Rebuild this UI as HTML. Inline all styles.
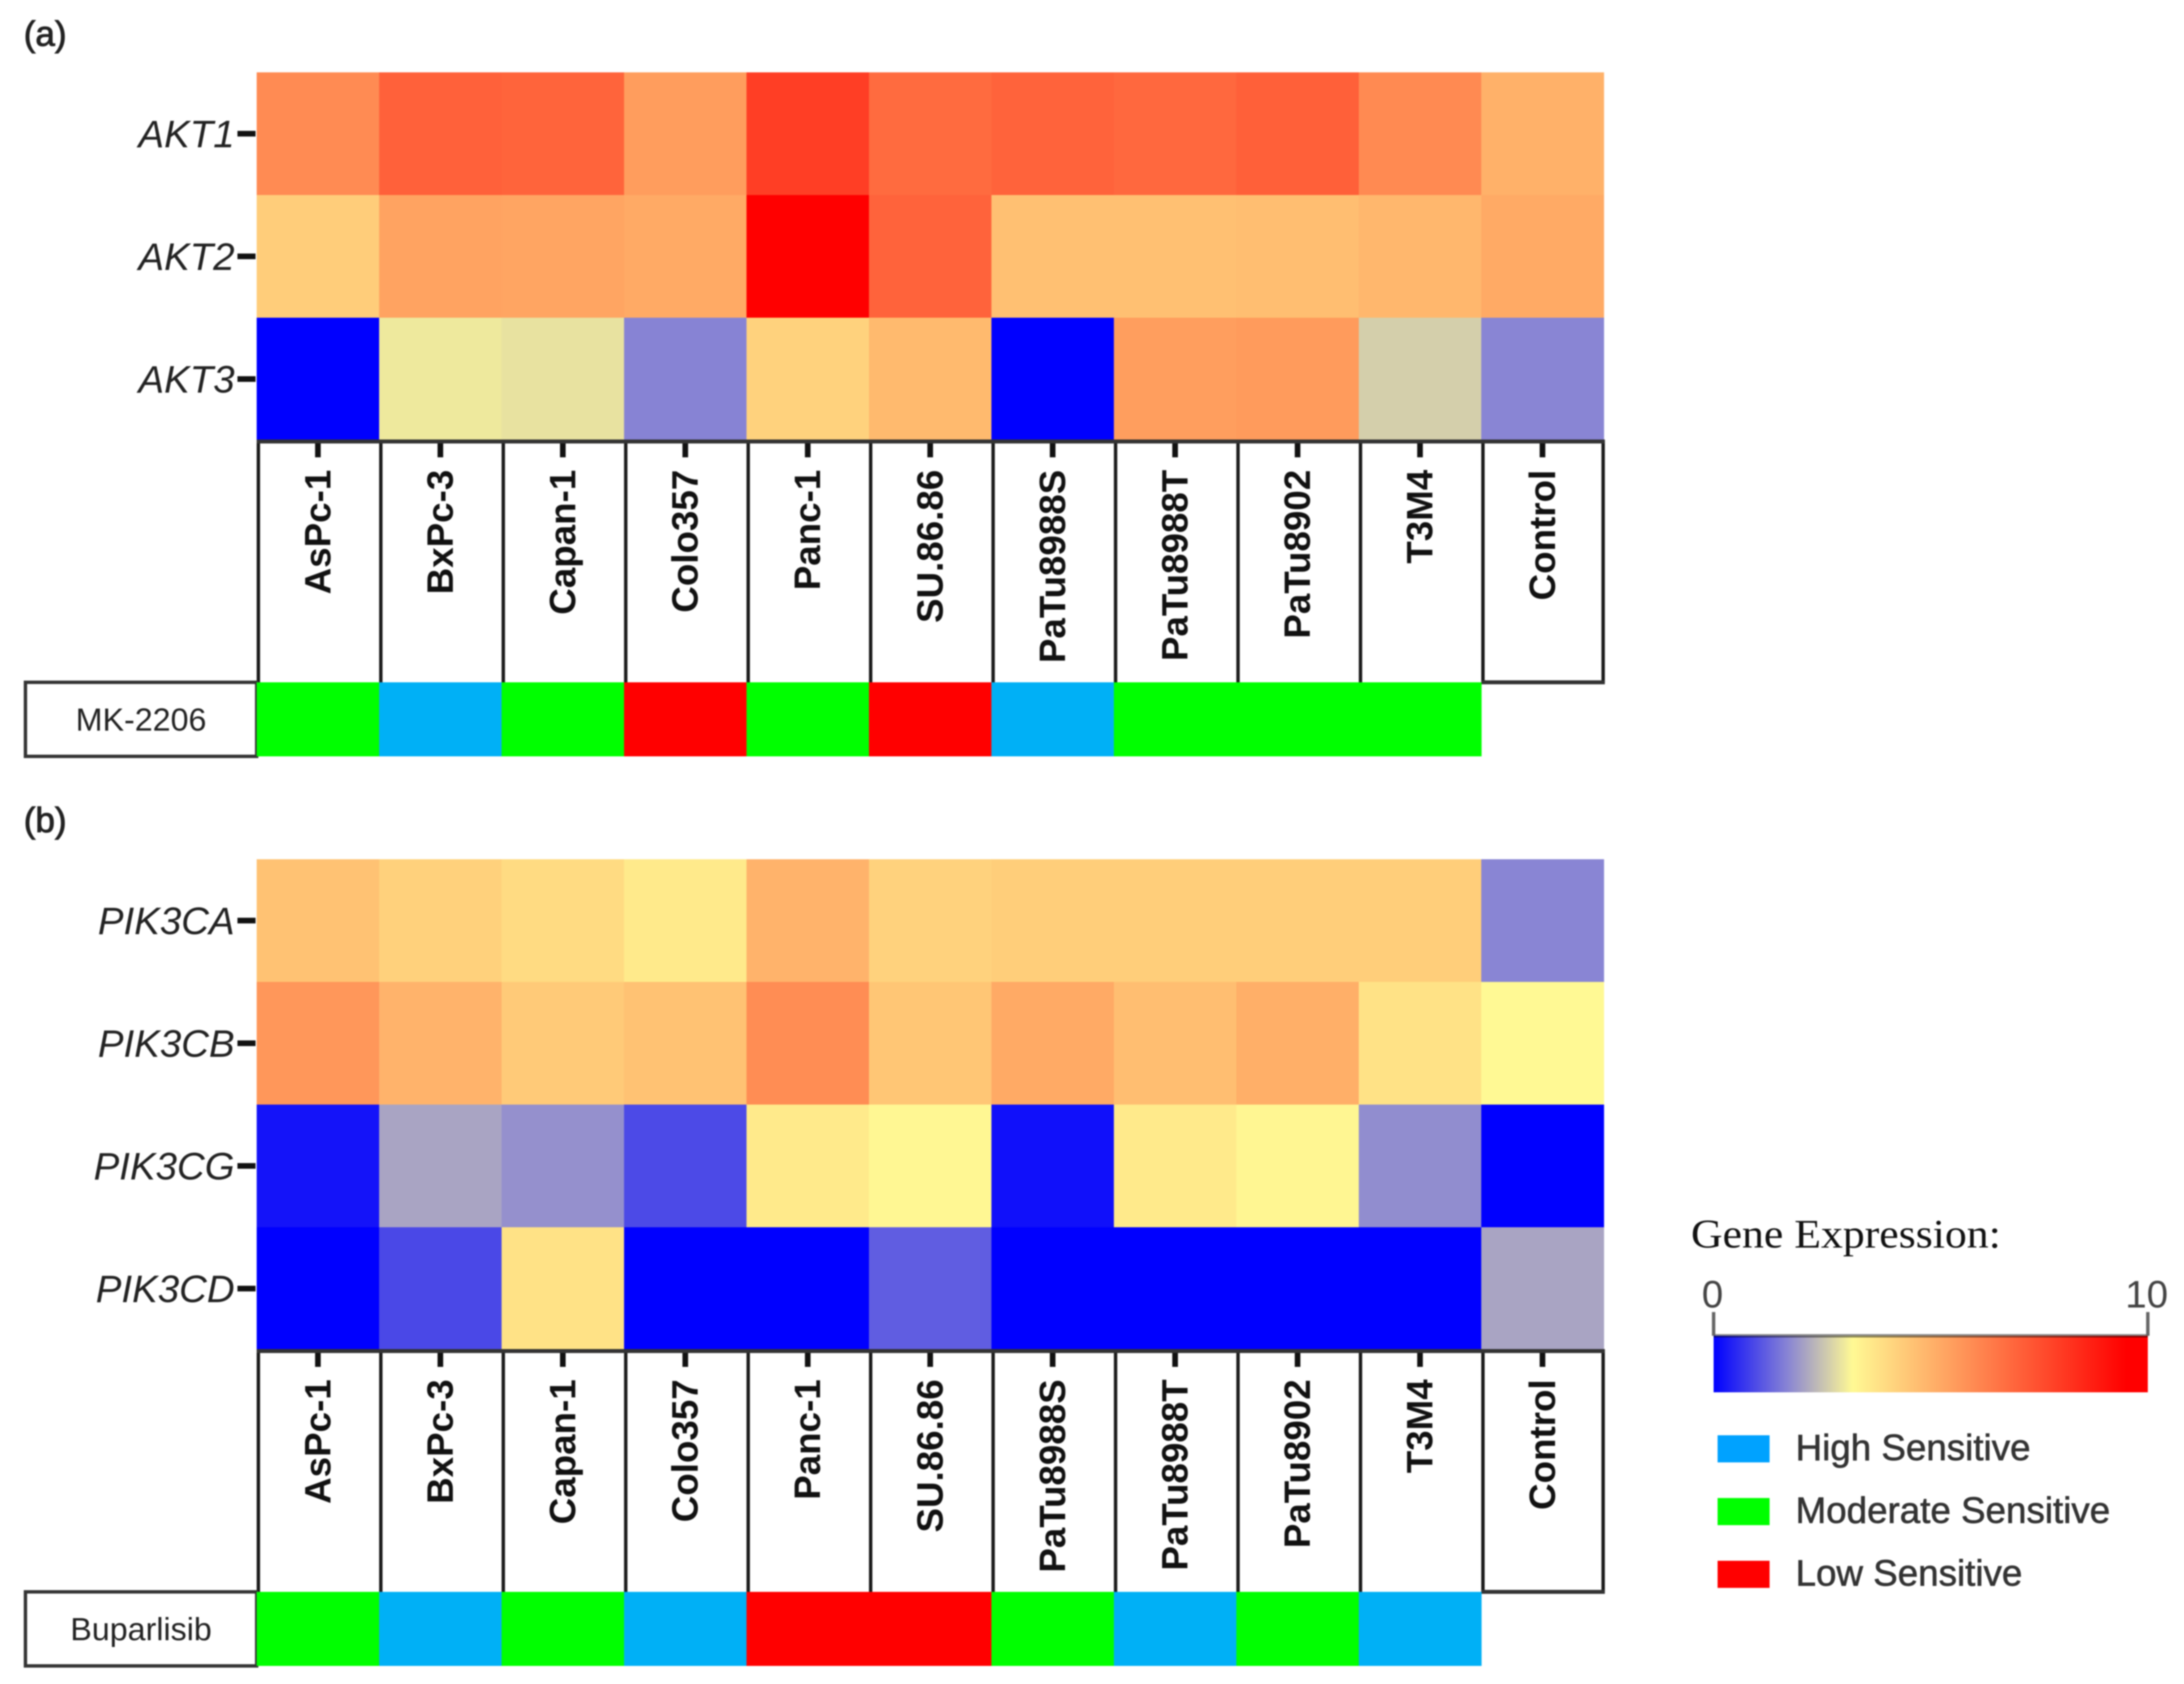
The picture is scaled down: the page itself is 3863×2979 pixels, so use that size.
<!DOCTYPE html>
<html lang="en">
<head>
<meta charset="utf-8">
<title>Gene expression heatmaps</title>
<style>
  html, body { margin: 0; padding: 0; background: #fff; }
  #chart { display: block; filter: blur(1.2px); }
  text { font-family: "Liberation Sans", sans-serif; }
</style>
</head>
<body>
<svg id="chart" xmlns="http://www.w3.org/2000/svg" width="3863" height="2979" viewBox="0 0 3863 2979">
  <rect x="0" y="0" width="3863" height="2979" fill="#ffffff"/>
</svg>
<script>
// ---- data ----
const cellLines = ['AsPc-1','BxPc-3','Capan-1','Colo357','Panc-1','SU.86.86','PaTu8988S','PaTu8988T','PaTu8902','T3M4','Control'];

const genesA = ['AKT1','AKT2','AKT3'];
const exprAKT1 = [5.98,7.05,6.97,5.52,7.92,6.80,7.00,6.87,7.08,6.00,5.01];
const exprAKT2 = [4.32,5.37,5.32,5.21,9.50,7.00,4.65,4.63,4.70,4.88,5.21];
const exprAKT3 = [0,2.99,2.91,1.69,4.19,4.80,0,5.50,5.57,2.66,1.71];
const sensitivityA = ['M','H','M','L','M','L','H','M','M','M'];

const genesB = ['PIK3CA','PIK3CB','PIK3CG','PIK3CD'];
const exprPIK3CA = [4.60,4.22,3.97,3.58,4.96,4.19,4.30,4.30,4.30,4.30,1.71];
const exprPIK3CB = [5.67,4.96,4.40,4.60,5.93,4.50,5.21,4.70,5.06,3.79,3.20];
const exprPIK3CG = [0.25,2.11,1.86,0.95,3.58,3.25,0.20,3.58,3.28,1.81,0];
const exprPIK3CD = [0,0.93,3.79,0,0,1.20,0,0,0,0,2.11];
const sensitivityB = ['M','H','M','H','L','L','M','H','M','H'];

const colorbarTicks = [0, 10];
const sensitivityKeys = ['H','M','L'];
const sensitivityNames = ['High Sensitive','Moderate Sensitive','Low Sensitive'];

// ---- colour scale ----
const scaleDomain = [0, 1.7, 3.2, 9.5, 10];
const scaleColors = [[0,0,255],[136,132,212],[255,249,148],[255,0,0],[255,0,0]];
function colorOf(v) {
  let i = 0;
  while (i < scaleDomain.length - 2 && v > scaleDomain[i + 1]) i++;
  const t = Math.max(0, Math.min(1, (v - scaleDomain[i]) / (scaleDomain[i + 1] - scaleDomain[i])));
  const a = scaleColors[i], b = scaleColors[i + 1];
  return 'rgb(' + a.map((c, k) => Math.round(c + (b[k] - c) * t)).join(',') + ')';
}
const sensColor = { H: '#00b0f6', M: '#00ff00', L: '#ff0000' };
const legendColor = { H: '#00a2ff', M: '#00ff00', L: '#ff0000' };

// ---- layout ----
const NS = 'http://www.w3.org/2000/svg';
const svg = document.getElementById('chart');
const LEFT = 454, CELL_W = 216.6, CELL_H = 217, TABLE_H = 428, STRIP_H = 131, BOX_LEFT = 45;
const xScale = i => LEFT + i * CELL_W;

function mk(parent, tag, attrs, txt) {
  const el = document.createElementNS(NS, tag);
  for (const k in attrs) el.setAttribute(k, attrs[k]);
  if (txt !== undefined) el.textContent = txt;
  parent.appendChild(el);
  return el;
}
function slug(s) { return s.toLowerCase().replace(/[^a-z0-9]+/g, '-'); }

function drawPanel(id, top, genes, matrix, sens, drug, panelLabel, labelY) {
  const yScale = r => top + r * CELL_H;
  const heatBottom = yScale(genes.length);
  const tableBottom = heatBottom + TABLE_H;
  const g = mk(svg, 'g', {});
  
  

  const pl = mk(g, 'text', { x: 42, y: labelY, 'font-size': 62, fill: '#222', stroke: '#222', 'stroke-width': 1.5 }, panelLabel);
  
  

  // heatmap cells
  matrix.forEach((row, r) => {
    row.forEach((v, c) => {
      const cell = mk(g, 'rect', { x: xScale(c), y: yScale(r), width: CELL_W + 0.6, height: CELL_H + 0.6, fill: colorOf(v) });
      
      
    });
  });

  // gene labels + ticks
  genes.forEach((name, r) => {
    const cy = yScale(r) + CELL_H / 2;
    const tick = mk(g, 'rect', { x: LEFT - 34, y: cy - 5, width: 32, height: 10, fill: '#111' });
    
    
    const t = mk(g, 'text', { x: LEFT - 39, y: cy + 24, 'text-anchor': 'end', 'font-size': 68, 'font-style': 'italic', fill: '#222' }, name);
    
    
  });

  // table of cell-line labels
  cellLines.forEach((name, c) => {
    const cx = xScale(c) + CELL_W / 2;
    const tick = mk(g, 'rect', { x: cx - 5, y: heatBottom, width: 10, height: 30, fill: '#111' });
    
    
    const tx = cx + 22, ty = heatBottom + 52;
    const t = mk(g, 'text', { x: tx, y: ty, 'text-anchor': 'end', 'font-size': 65, 'font-weight': 'bold', fill: '#111', transform: 'rotate(-90 ' + tx + ' ' + ty + ')' }, name);
    
    
  });
  for (let c = 0; c <= cellLines.length; c++) {
    const lx = c === cellLines.length ? xScale(c) - 1 : xScale(c) + 3;
    const ln = mk(g, 'line', { x1: lx, x2: lx, y1: heatBottom, y2: tableBottom, stroke: '#1a1a1a', 'stroke-width': 6 });
    
    
  }
  const tl = mk(g, 'line', { x1: LEFT, x2: xScale(cellLines.length) + 2, y1: heatBottom + 2, y2: heatBottom + 2, stroke: '#333', 'stroke-width': 7 });
  
  
  const bl = mk(g, 'line', { x1: xScale(sens.length), x2: xScale(cellLines.length) + 2, y1: tableBottom, y2: tableBottom, stroke: '#333', 'stroke-width': 7 });
  
  

  // drug box + sensitivity strip
  const box = mk(g, 'rect', { x: BOX_LEFT, y: tableBottom, width: LEFT - BOX_LEFT, height: STRIP_H, fill: '#fff', stroke: '#333', 'stroke-width': 6 });
  
  
  const dl = mk(g, 'text', { x: (BOX_LEFT + LEFT) / 2, y: tableBottom + STRIP_H / 2 + 20, 'text-anchor': 'middle', 'font-size': 57, fill: '#222' }, drug);
  
  
  sens.forEach((s, c) => {
    const cell = mk(g, 'rect', { x: xScale(c), y: tableBottom, width: CELL_W + 0.6, height: STRIP_H, fill: sensColor[s] });
    
    
  });
}

drawPanel('a', 128, genesA, [exprAKT1, exprAKT2, exprAKT3], sensitivityA, 'MK-2206', '(a)', 81);
drawPanel('b', 1520, genesB, [exprPIK3CA, exprPIK3CB, exprPIK3CG, exprPIK3CD], sensitivityB, 'Buparlisib', '(b)', 1472);

// ---- legend ----
const BAR_L = 3031, BAR_R = 3799, BAR_T = 2363, BAR_H = 100;
const barX = v => BAR_L + (v - colorbarTicks[0]) / (colorbarTicks[1] - colorbarTicks[0]) * (BAR_R - BAR_L);
const legend = mk(svg, 'g', {});



const title = mk(legend, 'text', { x: 2991, y: 2207, 'font-size': 72, fill: '#111', textLength: 548, lengthAdjust: 'spacingAndGlyphs', style: 'font-family:"Liberation Serif",serif' }, 'Gene Expression:');



const defs = mk(svg, 'defs', {});
const grad = mk(defs, 'linearGradient', { id: 'exprGradient', x1: 0, x2: 1, y1: 0, y2: 0 });
scaleDomain.forEach(v => {
  mk(grad, 'stop', { offset: (v / 10 * 100) + '%', 'stop-color': colorOf(v) });
});
const bar = mk(legend, 'rect', { x: BAR_L, y: BAR_T, width: BAR_R - BAR_L, height: BAR_H, fill: 'url(#exprGradient)' });


const barTop = mk(legend, 'rect', { x: BAR_L, y: BAR_T - 3, width: BAR_R - BAR_L, height: 6, fill: '#000', opacity: 0.45 });



colorbarTicks.forEach(v => {
  const x = barX(v);
  const tk = mk(legend, 'rect', { x: x - 3, y: BAR_T - 42, width: 6, height: 42, fill: '#666' });
  
  
  const lb = mk(legend, 'text', { x: x - 2, y: BAR_T - 50, 'text-anchor': 'middle', 'font-size': 68, fill: '#444' }, String(v));
  
  
});

const legendTop = 2539, legendStep = 111;
sensitivityKeys.forEach((k, i) => {
  const y = legendTop + i * legendStep;
  const sw = mk(legend, 'rect', { x: 3038, y: y, width: 92, height: 48, fill: legendColor[k] });
  
  
  const tx = mk(legend, 'text', { x: 3176, y: y + 44, 'font-size': 65, fill: '#333', stroke: '#333', 'stroke-width': 1 }, sensitivityNames[i]);
  
  
});
</script>
</body>
</html>
